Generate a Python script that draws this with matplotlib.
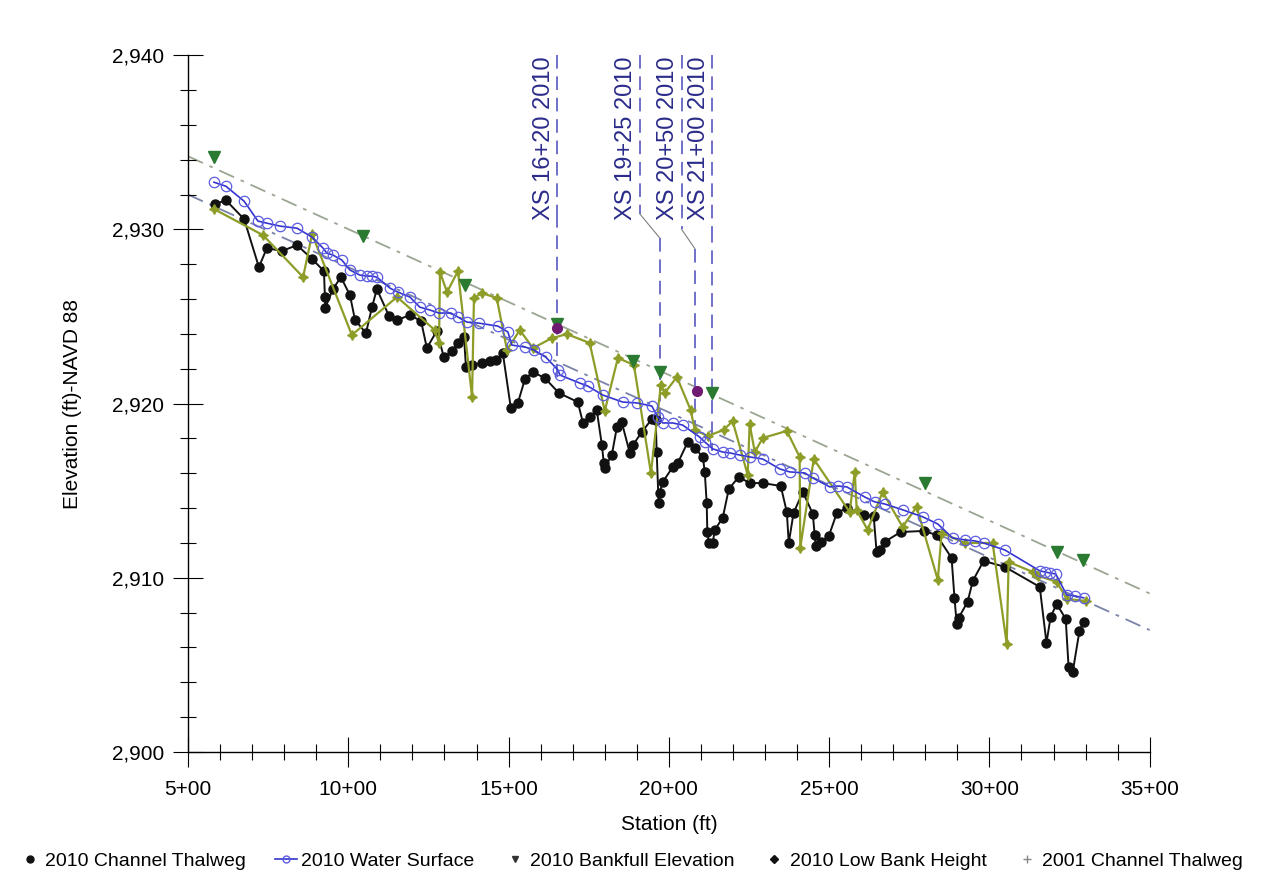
import matplotlib
matplotlib.use("Agg")
import matplotlib.pyplot as plt
from matplotlib.lines import Line2D
from matplotlib.ticker import MultipleLocator, FuncFormatter

plt.rcParams['font.family'] = ['Liberation Sans', 'DejaVu Sans']

# 2010 channel thalweg
thal10_sta = [584, 618, 675, 721, 746, 793, 840, 887, 924, 927,
              928, 952, 977, 1005, 1021, 1055, 1074, 1089, 1127, 1152,
              1192, 1227, 1245, 1276, 1298, 1323, 1342, 1361, 1367, 1386,
              1417, 1442, 1460, 1482, 1507, 1529, 1551, 1576, 1613, 1657,
              1716, 1732, 1753, 1775, 1791, 1797, 1800, 1822, 1838, 1853,
              1878, 1888, 1916, 1947, 1959, 1962, 1968, 1971, 1981, 2012,
              2028, 2059, 2081, 2106, 2112, 2118, 2120, 2125, 2137, 2143,
              2168, 2187, 2218, 2252, 2293, 2349, 2368, 2374, 2389, 2418,
              2449, 2455, 2458, 2474, 2499, 2524, 2555, 2608, 2639, 2648,
              2658, 2673, 2723, 2795, 2835, 2882, 2891, 2898, 2904, 2932,
              2948, 2982, 3048, 3157, 3178, 3191, 3210, 3238, 3247, 3260,
              3281, 3294]
thal10_elev = [2931.45, 2931.68, 2930.59, 2927.84, 2928.93, 2928.76, 2929.10, 2928.30, 2927.61, 2926.12,
               2925.49, 2926.58, 2927.26, 2926.23, 2924.80, 2924.05, 2925.54, 2926.58, 2925.03, 2924.80,
               2925.08, 2924.74, 2923.19, 2924.17, 2922.67, 2923.02, 2923.48, 2923.82, 2922.10, 2922.22,
               2922.33, 2922.44, 2922.50, 2922.90, 2919.75, 2920.04, 2921.41, 2921.81, 2921.47, 2920.61,
               2920.09, 2918.89, 2919.23, 2919.63, 2917.63, 2916.59, 2916.31, 2917.05, 2918.66, 2918.94,
               2917.17, 2917.63, 2918.37, 2919.12, 2919.06, 2917.22, 2914.30, 2914.87, 2915.50, 2916.36,
               2916.59, 2917.80, 2917.45, 2916.94, 2916.08, 2914.30, 2912.63, 2912.00, 2912.00, 2912.75,
               2913.44, 2915.10, 2915.79, 2915.44, 2915.44, 2915.27, 2913.78, 2912.00, 2913.72, 2914.93,
               2913.67, 2912.46, 2911.83, 2912.06, 2912.40, 2913.72, 2914.01, 2913.61, 2913.55, 2911.49,
               2911.60, 2912.06, 2912.63, 2912.69, 2912.46, 2911.14, 2908.85, 2907.36, 2907.70, 2908.62,
               2909.82, 2910.97, 2910.63, 2909.48, 2906.27, 2907.76, 2908.50, 2907.64, 2904.89, 2904.61,
               2906.96, 2907.47]

# 2010 water surface
ws_sta = [581, 618, 675, 718, 746, 787, 840, 887, 921, 933,
          952, 980, 1005, 1036, 1058, 1074, 1089, 1130, 1155, 1192,
          1223, 1255, 1283, 1320, 1342, 1370, 1407, 1467, 1498, 1510,
          1551, 1579, 1616, 1654, 1660, 1722, 1747, 1794, 1856, 1900,
          1947, 1965, 1981, 2012, 2043, 2096, 2112, 2137, 2168, 2190,
          2221, 2252, 2293, 2346, 2377, 2424, 2449, 2502, 2527, 2555,
          2611, 2642, 2673, 2730, 2792, 2839, 2885, 2923, 2954, 2982,
          3048, 3157, 3172, 3188, 3207, 3241, 3266, 3294]
ws_elev = [2932.71, 2932.48, 2931.62, 2930.48, 2930.36, 2930.19, 2930.07, 2929.56, 2928.93, 2928.64,
           2928.53, 2928.24, 2927.67, 2927.38, 2927.32, 2927.32, 2927.26, 2926.63, 2926.40, 2926.12,
           2925.54, 2925.37, 2925.20, 2925.20, 2924.97, 2924.68, 2924.62, 2924.45, 2924.11, 2923.36,
           2923.25, 2923.08, 2922.67, 2921.93, 2921.64, 2921.18, 2921.01, 2920.49, 2920.09, 2920.04,
           2919.86, 2919.23, 2918.89, 2918.89, 2918.77, 2918.08, 2917.80, 2917.40, 2917.22, 2917.17,
           2917.05, 2916.94, 2916.82, 2916.25, 2916.08, 2916.02, 2915.73, 2915.22, 2915.27, 2915.22,
           2914.64, 2914.36, 2914.24, 2913.90, 2913.50, 2913.09, 2912.29, 2912.18, 2912.12, 2912.00,
           2911.60, 2910.40, 2910.34, 2910.28, 2910.22, 2909.02, 2908.96, 2908.85]

# 2001 channel thalweg
thal01_sta = [581, 734, 859, 887, 1011, 1152, 1270, 1283, 1286, 1308,
              1342, 1386, 1392, 1417, 1463, 1495, 1535, 1576, 1635, 1682,
              1753, 1800, 1841, 1891, 1944, 1975, 1987, 2025, 2068, 2081,
              2121, 2171, 2199, 2246, 2252, 2268, 2293, 2368, 2408, 2410,
              2452, 2564, 2580, 2586, 2620, 2667, 2729, 2773, 2839, 2851,
              2923, 3010, 3054, 3060, 3135, 3153, 3210, 3241, 3300]
thal01_elev = [2931.17, 2929.67, 2927.26, 2929.73, 2923.94, 2926.12, 2924.22, 2923.48, 2927.55, 2926.40,
               2927.61, 2920.38, 2926.06, 2926.35, 2926.06, 2923.08, 2924.22, 2923.19, 2923.76, 2923.99,
               2923.48, 2919.58, 2922.62, 2922.22, 2916.02, 2921.07, 2920.61, 2921.53, 2919.63, 2918.49,
               2918.14, 2918.49, 2919.00, 2915.90, 2918.83, 2917.22, 2918.03, 2918.43, 2916.94, 2911.72,
               2916.82, 2913.78, 2916.08, 2913.90, 2912.75, 2914.93, 2912.92, 2914.07, 2909.88, 2912.58,
               2912.00, 2912.00, 2906.21, 2910.91, 2910.34, 2910.11, 2909.77, 2908.79, 2908.67]

# 2010 bankfull and low bank
bank_sta = [581, 1046, 1364, 1651, 1888, 1972, 2134, 2798, 3210, 3291]
bank_elev = [2934.15, 2929.62, 2926.80, 2924.57, 2922.44, 2921.81, 2920.61, 2915.44, 2911.49, 2911.03]
low_sta = [1651, 2087]
low_elev = [2924.34, 2920.72]

# trend lines
trend_sta = [500, 3500]
bank_trend = [2934.2, 2909.1]
ws_trend = [2932.0, 2907.0]

# cross section markers
xs_labels = ["XS 16+20 2010", "XS 19+25 2010", "XS 20+50 2010", "XS 21+00 2010"]
xs_sta = [1651, 1972, 2081, 2134]
xs_top_sta = [1651, 1909, 2040, 2134]
xs_bend_elev = [2930.9, 2930.9, 2930.0, 2930.0]
xs_knee_elev = [2930.9, 2929.5, 2928.9, 2930.0]
xs_low_elev = [2921.3, 2918.8, 2918.5, 2917.3]

fig = plt.figure(figsize=(12.62, 8.91), dpi=100)
ax = fig.add_axes([0.149, 0.156, 0.762, 0.782])

ax.plot(trend_sta, bank_trend, color='#9aa592', lw=1.3, ls=(0, (9, 4, 2, 4)), zorder=1)
ax.plot(trend_sta, ws_trend, color='#7a82a8', lw=1.3, ls=(0, (9, 4, 2, 4)), zorder=1)

xs_col = '#7070c8'
for lab, s, st, be, ke, le in zip(xs_labels, xs_sta, xs_top_sta, xs_bend_elev, xs_knee_elev, xs_low_elev):
    ax.plot([st, st], [2940, be], color=xs_col, lw=1.4, ls=(0, (7, 4)), zorder=2)
    if st != s:
        ax.plot([st, s], [be, ke], color='#808080', lw=0.8, zorder=2)
    ax.plot([s, s], [ke, le], color=xs_col, lw=1.4, ls=(0, (7, 4)), zorder=2)
    ax.annotate(lab, xy=(st, 2940), xytext=(-9.5, -1), textcoords='offset points',
                rotation=90, ha='center', va='top', fontsize=17, color='#2b2b8a')

ax.plot(thal10_sta, thal10_elev, color='#111111', lw=1.4, marker='o', ms=6.5, zorder=3)
ax.plot(thal01_sta, thal01_elev, color='#8e9c28', lw=1.6, marker=(4, 1, 0), ms=7, zorder=4)
ax.plot(ws_sta, ws_elev, color='#3434d0', lw=1.2, marker='o', ms=7.5, mfc='none',
        mec='#5c5ce0', mew=0.9, zorder=5)
ax.plot(bank_sta, bank_elev, ls='none', marker='v', ms=8, color='#2a7a32', zorder=6)
ax.plot(low_sta, low_elev, ls='none', marker='o', ms=7, color='#6e1a72', zorder=7)

ax.set_xlim(500, 3500)
ax.set_ylim(2900, 2940)
for side in ['top', 'right']:
    ax.spines[side].set_visible(False)
for side in ['left', 'bottom']:
    ax.spines[side].set_linewidth(1.0)

ax.xaxis.set_major_locator(MultipleLocator(500))
ax.xaxis.set_minor_locator(MultipleLocator(100))
ax.yaxis.set_major_locator(MultipleLocator(10))
ax.yaxis.set_minor_locator(MultipleLocator(2))
ax.xaxis.set_major_formatter(FuncFormatter(lambda v, p: "%d+%02d" % (int(v) // 100, int(v) % 100)))
ax.yaxis.set_major_formatter(FuncFormatter(lambda v, p: "{:,.0f}".format(v)))
ax.tick_params(which='major', direction='inout', length=22, width=0.8, labelsize=15, pad=9)
ax.tick_params(which='minor', direction='inout', length=11, width=0.8)
ax.tick_params(axis='y', which='major', pad=6)

ax.set_xlabel('Station (ft)', fontsize=15, labelpad=12)
ax.set_ylabel('Elevation (ft)-NAVD 88', fontsize=15, labelpad=22)

handles = [
    Line2D([], [], ls='none', marker='o', ms=5, color='#111111'),
    Line2D([], [], color='#3434d0', lw=1.2, marker='o', ms=5, mfc='none', mec='#5c5ce0'),
    Line2D([], [], ls='none', marker='v', ms=5, color='#333333'),
    Line2D([], [], ls='none', marker='D', ms=4, color='#111111'),
    Line2D([], [], ls='none', marker='+', ms=6, color='#888888'),
]
labels = ["2010 Channel Thalweg", "2010 Water Surface", "2010 Bankfull Elevation",
          "2010 Low Bank Height", "2001 Channel Thalweg"]
fig.legend(handles, labels, loc='center', bbox_to_anchor=(0.5, 0.034), ncol=5, frameon=False,
           fontsize=14, handlelength=1.1, handletextpad=0.25, columnspacing=1.5)

fig.savefig('out.png', dpi=100)
